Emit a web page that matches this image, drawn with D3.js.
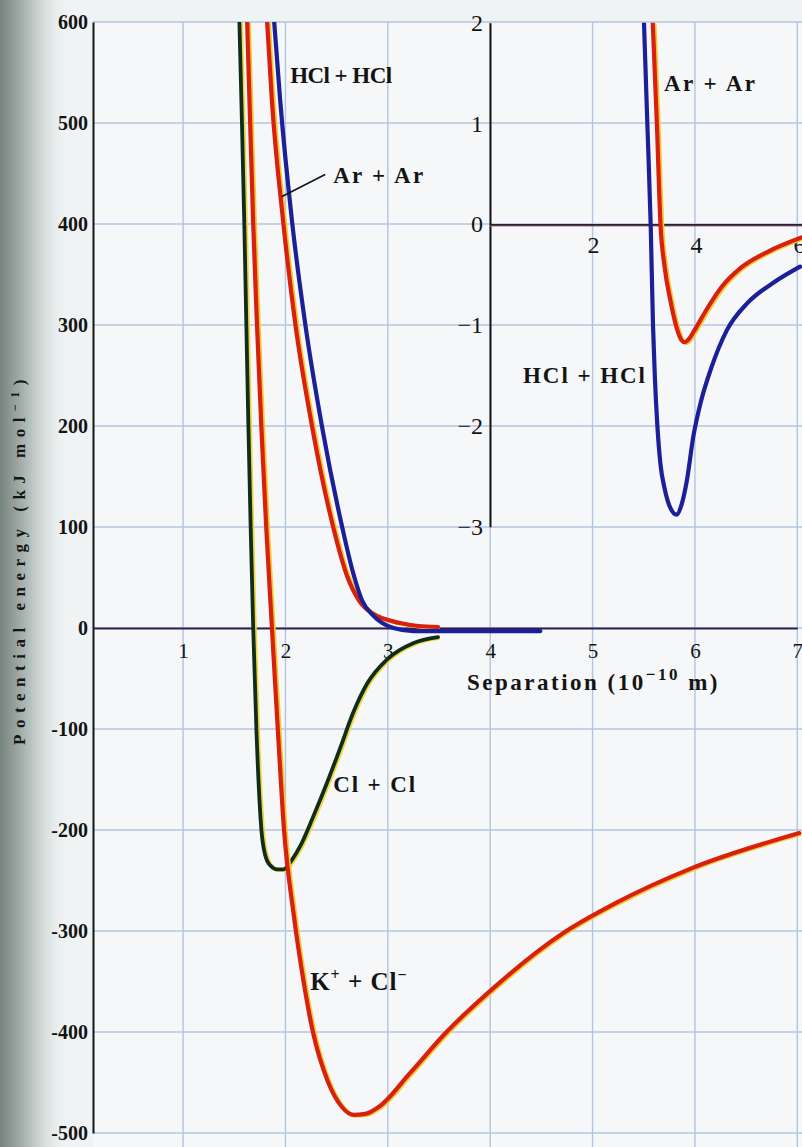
<!DOCTYPE html>
<html><head><meta charset="utf-8">
<script src="https://cdn.jsdelivr.net/npm/d3@7"></script>
<style>
body{margin:0;background:#eef2f3}
svg{display:block}
text{font-family:"Liberation Serif","Times New Roman",serif;fill:#141414}
</style></head>
<body><svg id="chart" width="802" height="1147"></svg>
<script>
// ---------- data ----------
const mainXTicks = [1, 2, 3, 4, 5, 6, 7];
const mainYTicks = [600, 500, 400, 300, 200, 100, 0, -100, -200, -300, -400, -500];
const insetXTicks = [2, 4, 6];
const insetYTicks = [2, 1, 0, -1, -2, -3];

// main panel: separation (1e-10 m), potential energy (kJ/mol)
const clclMain = [[1.55,600],[1.575,500],[1.598,400],[1.618,300],[1.638,200],[1.66,100],[1.685,0],[1.716,-100],[1.765,-200],[1.80,-224],[1.85,-235],[1.92,-239],[1.98,-239],[2.06,-230],[2.144,-216],[2.27,-187],[2.407,-153],[2.534,-119],[2.661,-84],[2.798,-55],[2.993,-31],[3.247,-15],[3.49,-9]];
const kclMain = [[1.626,600],[1.655,500],[1.685,400],[1.722,300],[1.764,200],[1.812,100],[1.868,0],[1.925,-100],[1.986,-200],[2.078,-282],[2.164,-342],[2.264,-398],[2.414,-449],[2.55,-474],[2.664,-482],[2.78,-481],[2.914,-474],[3.214,-441],[3.564,-401],[4.014,-358],[4.714,-302],[5.214,-273],[5.964,-238],[7.02,-203]];
const arMain = [[1.821,600],[1.867,523],[1.978,402],[2.095,302],[2.261,199],[2.466,100],[2.6,52],[2.72,27],[2.856,14],[3.12,5],[3.3,2],[3.49,1]];
const hclMain = [[1.89,600],[1.948,523],[2.065,402],[2.192,302],[2.358,199],[2.554,100],[2.66,55],[2.75,27],[2.86,12],[3.055,0],[3.25,-3],[3.5,-3],[4.49,-3]];

// inset panel
const arInset = [[3.16,2],[3.24,1],[3.31,0],[3.39,-0.42],[3.50,-0.75],[3.62,-1.02],[3.72,-1.15],[3.78,-1.17],[3.86,-1.14],[3.96,-1.06],[4.2,-0.85],[4.5,-0.62],[4.85,-0.44],[5.4,-0.27],[6.05,-0.13]];
const hclInset = [[2.99,2],[3.055,1],[3.12,0],[3.165,-1.0],[3.2,-1.5],[3.25,-2.0],[3.31,-2.38],[3.39,-2.62],[3.49,-2.8],[3.625,-2.88],[3.72,-2.78],[3.82,-2.55],[3.95,-2.1],[4.1,-1.75],[4.3,-1.42],[4.6,-1.05],[5.0,-0.78],[5.5,-0.58],[6.02,-0.42]];

// ---------- layout ----------
const svg = d3.select("#chart");
const mainX = d3.scaleLinear().domain([0.12, 7.0]).range([93, 797.3]);
const mainY = d3.scaleLinear().domain([-500, 600]).range([1133, 22]);
const insetX = d3.scaleLinear().domain([0, 6.2]).range([490, 809.3]);
const insetY = d3.scaleLinear().domain([-3, 2]).range([526.7, 22.7]);

// background (photographed page look)
const defs = svg.append("defs");
const lg = defs.append("linearGradient").attr("id","edge").attr("x1","0").attr("x2","1").attr("y1","0").attr("y2","0");
lg.append("stop").attr("offset","0").attr("stop-color","#76837d");
lg.append("stop").attr("offset","0.45").attr("stop-color","#b9c3bf");
lg.append("stop").attr("offset","1").attr("stop-color","#eef2f3").attr("stop-opacity",0);
svg.append("rect").attr("width",802).attr("height",1147).attr("fill","#eff3f4");
svg.append("rect").attr("x",93).attr("y",22).attr("width",709).attr("height",1125).attr("fill","#f5f7f8");
svg.append("rect").attr("width",70).attr("height",1147).attr("fill","url(#edge)");

defs.append("clipPath").attr("id","clipMain").append("rect").attr("x",93).attr("y",mainY(600)).attr("width",709).attr("height",1125);
defs.append("clipPath").attr("id","clipInset").append("rect").attr("x",490).attr("y",insetY(2)).attr("width",312).attr("height",insetY(-3)-insetY(2)+4);

// grid
const grid = svg.append("g").attr("stroke","#b3c5e0").attr("stroke-width",1.4);
grid.selectAll(".v").data(mainXTicks).join("line")
  .attr("x1",d=>mainX(d)).attr("x2",d=>mainX(d)).attr("y1",mainY(600)).attr("y2",1147);
grid.selectAll(".h").data(mainYTicks).join("line")
  .attr("x1",mainX(0.12)).attr("x2",802).attr("y1",d=>mainY(d)).attr("y2",d=>mainY(d));

// axes: main
const yAxis = svg.append("g").attr("transform",`translate(${mainX(0.12)},0)`)
  .call(d3.axisLeft(mainY).tickValues(mainYTicks).tickSize(0).tickPadding(5)
    .tickFormat(d => d < 0 ? "-" + (-d) : String(d)));
yAxis.select(".domain").attr("stroke","#151515").attr("stroke-width",2);
yAxis.selectAll("text").style("font-size","20px").style("font-weight","bold").attr("fill","#141414");

const xAxis = svg.append("g").attr("transform",`translate(0,${mainY(0)})`)
  .call(d3.axisBottom(mainX).tickValues(mainXTicks).tickSize(0).tickPadding(15).tickFormat(d3.format("d")));
xAxis.select(".domain").attr("stroke","#34204e").attr("stroke-width",2);
xAxis.selectAll("text").style("font-size","21px").attr("fill","#141414");

// axes: inset
const iyAxis = svg.append("g").attr("transform",`translate(${insetX(0)},0)`)
  .call(d3.axisLeft(insetY).tickValues(insetYTicks).tickSize(0).tickPadding(7)
    .tickFormat(d => d < 0 ? "\u2212" + (-d) : String(d)));
iyAxis.select(".domain").attr("stroke","#151515").attr("stroke-width",2);
iyAxis.selectAll("text").style("font-size","24px").attr("fill","#141414");

svg.append("line").attr("x1",insetX(0)).attr("x2",802).attr("y1",insetY(0)+1.6).attr("y2",insetY(0)+1.6)
  .attr("stroke","#d050b8").attr("stroke-width",1.3);
const ixAxis = svg.append("g").attr("transform",`translate(0,${insetY(0)})`)
  .call(d3.axisBottom(insetX).tickValues(insetXTicks).tickSize(0).tickPadding(12).tickFormat(d3.format("d")));
ixAxis.select(".domain").attr("stroke","#1c2a22").attr("stroke-width",1.8);
ixAxis.selectAll("text").style("font-size","24px").attr("fill","#141414");

// curves
function drawCurve(g, data, xs, ys, color, glow, w){
  const line = d3.line().x(d=>xs(d[0])).y(d=>ys(d[1])).curve(d3.curveMonotoneX);
  if (glow) g.append("path").attr("d",line(data)).attr("fill","none").attr("stroke",glow)
      .attr("stroke-width",w).attr("transform","translate(1.7,0.8)").attr("stroke-linejoin","round");
  g.append("path").attr("d",line(data)).attr("fill","none").attr("stroke",color)
    .attr("stroke-width",w).attr("stroke-linejoin","round").attr("stroke-linecap","round");
}
const gm = svg.append("g").attr("clip-path","url(#clipMain)");
drawCurve(gm, clclMain, mainX, mainY, "#0f2c1d", "#efd83a", 3.8);
drawCurve(gm, kclMain, mainX, mainY, "#d8200f", "#f2c830", 4.2);
drawCurve(gm, arMain, mainX, mainY, "#d8200f", "#f2c830", 4.2);
drawCurve(gm, hclMain, mainX, mainY, "#1b1f98", null, 4.2);

const gi = svg.append("g").attr("clip-path","url(#clipInset)");
drawCurve(gi, hclInset, insetX, insetY, "#1b1f98", null, 4.2);
drawCurve(gi, arInset, insetX, insetY, "#d8200f", "#f2c830", 4.2);

// annotations (anchored in data coordinates)
const mainNotes = [
  {text:"HCl + HCl", x:2.046, v:540, len:102},
  {text:"Ar + Ar",   x:2.466, v:441, len:90},
  {text:"Cl + Cl",   x:2.466, v:-162, len:82}
];
const insetNotes = [
  {text:"Ar + Ar",   x:3.379, v:1.326, len:91},
  {text:"HCl + HCl", x:0.641, v:-1.57, len:122}
];
mainNotes.forEach(n => svg.append("text").attr("x",mainX(n.x)).attr("y",mainY(n.v))
  .attr("textLength",n.len).attr("lengthAdjust","spacing")
  .style("font-size","23px").style("font-weight","bold").text(n.text));
insetNotes.forEach(n => svg.append("text").attr("x",insetX(n.x)).attr("y",insetY(n.v))
  .attr("textLength",n.len).attr("lengthAdjust","spacing")
  .style("font-size","23px").style("font-weight","bold").text(n.text));

// K+ + Cl- label with superscripts
const kt = svg.append("text").attr("x",mainX(2.241)).attr("y",mainY(-358))
  .style("font-size","25px").style("font-weight","bold").style("letter-spacing","1px");
kt.append("tspan").text("K");
kt.append("tspan").attr("dy",-10).style("font-size","16px").text("+");
kt.append("tspan").attr("dy",10).text(" + Cl");
kt.append("tspan").attr("dy",-10).style("font-size","16px").text("\u2212");

// leader line for Ar + Ar
svg.append("line").attr("x1",mainX(2.388)).attr("y1",mainY(449)).attr("x2",mainX(1.962)).attr("y2",mainY(427))
  .attr("stroke","#141414").attr("stroke-width",1.6);

// axis titles
const xt = svg.append("text").attr("x",467).attr("y",690)
  .style("font-size","23px").style("font-weight","bold").style("letter-spacing","2.5px");
xt.append("tspan").text("Separation (10");
xt.append("tspan").attr("dy",-10).style("font-size","17px").text("\u221210");
xt.append("tspan").attr("dy",10).text(" m)");

const yt = svg.append("text").attr("transform","translate(25,745) rotate(-90)")
  .style("font-size","17px").style("font-weight","bold").style("letter-spacing","6.5px");
yt.append("tspan").text("Potential energy (kJ mol");
yt.append("tspan").attr("dy",-6).style("font-size","12px").text("\u22121");
yt.append("tspan").attr("dy",6).text(")");
</script></body></html>
